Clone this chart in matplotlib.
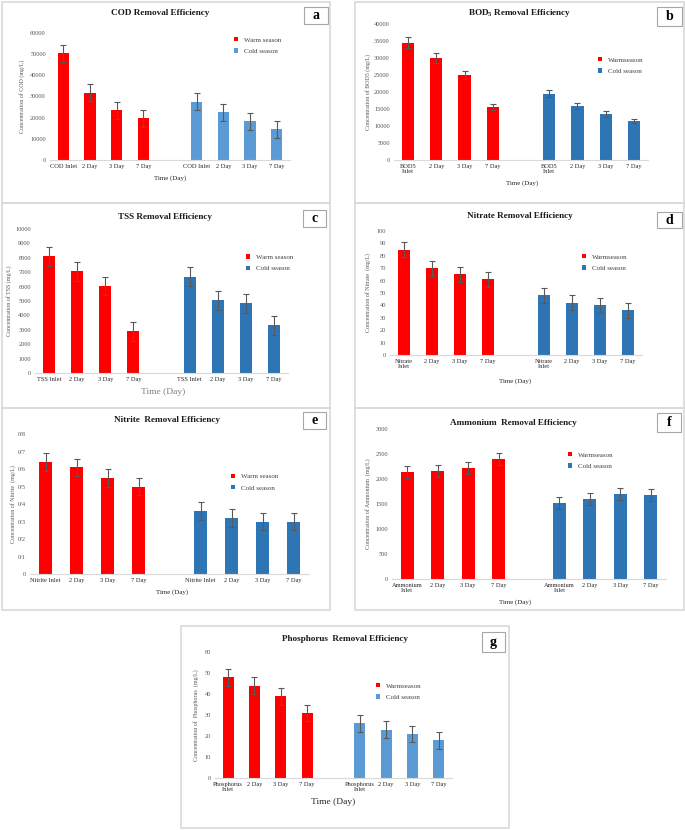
import numpy as np
import matplotlib.pyplot as plt
from matplotlib.patches import Rectangle

plt.rcParams['font.family'] = ['Liberation Serif', 'DejaVu Serif']
plt.rcParams['mathtext.fontset'] = 'custom'
plt.rcParams['mathtext.rm'] = 'Liberation Serif'
plt.rcParams['mathtext.bf'] = 'Liberation Serif:bold'

W, H = 685, 830

# ---- data ----
cod_cats = ['COD Inlet', '2 Day', '3 Day', '7 Day']
cod_warm = [50500, 31700, 23500, 19700]
cod_warm_err = [4000, 4000, 4000, 4000]
cod_cold = [27600, 22600, 18300, 14500]
cod_cold_err = [4000, 4000, 4000, 4000]

bod_cats = ['BOD5\nInlet', '2 Day', '3 Day', '7 Day']
bod_warm = [34500, 30000, 25000, 15500]
bod_warm_err = [1700, 1500, 1200, 900]
bod_cold = [19500, 16000, 13500, 11500]
bod_cold_err = [1000, 900, 800, 600]

tss_cats = ['TSS Inlet', '2 Day', '3 Day', '7 Day']
tss_warm = [8100, 7050, 6050, 2900]
tss_warm_err = [650, 650, 650, 650]
tss_cold = [6700, 5050, 4850, 3300]
tss_cold_err = [650, 650, 650, 650]

no3_cats = ['Nitrate\nInlet', '2 Day', '3 Day', '7 Day']
no3_warm = [85, 70, 65, 61]
no3_warm_err = [6, 6, 6, 6]
no3_cold = [48, 42, 40, 36]
no3_cold_err = [6, 6, 6, 6]

no2_cats = ['Nitrite Inlet', '2 Day', '3 Day', '7 Day']
no2_warm = [0.64, 0.61, 0.55, 0.50]
no2_warm_err = [0.05, 0.05, 0.05, 0.05]
no2_cold = [0.36, 0.32, 0.30, 0.30]
no2_cold_err = [0.05, 0.05, 0.05, 0.05]
no2_ticklabels = ['0', '0/1', '0/2', '0/3', '0/4', '0/5', '0/6', '0/7', '0/8']

nh4_cats = ['Ammonium\nInlet', '2 Day', '3 Day', '7 Day']
nh4_warm = [2150, 2170, 2230, 2400]
nh4_warm_err = [120, 120, 120, 120]
nh4_cold = [1530, 1600, 1700, 1690]
nh4_cold_err = [120, 120, 120, 120]

po4_cats = ['Phosphorus\nInlet', '2 Day', '3 Day', '7 Day']
po4_warm = [48, 44, 39, 31]
po4_warm_err = [4, 4, 4, 4]
po4_cold = [26, 23, 21, 18]
po4_cold_err = [4, 4, 4, 4]

RED = '#ff0000'
LBLUE = '#5b9bd5'
DBLUE = '#2e75b6'
GRAY = '#595959'

fig = plt.figure(figsize=(W / 100, H / 100), dpi=100)


def fxy(x, y):
    return x / W, 1 - y / H


def draw_panel(box, axpx, title, letter, lbox, cats, warm, werr, cold, cerr,
               ymax, ystep, ylabel, ylab_x, leg, legnames, xlab, xlab_fs,
               cold_color, yticklabels=None, xlab_color='#262626'):
    # panel frame
    bx0, by0, bx1, by1 = box
    fig.add_artist(Rectangle(fxy(bx0, by1), (bx1 - bx0) / W, (by1 - by0) / H,
                             transform=fig.transFigure, fill=False,
                             edgecolor='#d9d9d9', lw=1.2))
    x0, y0, x1, y1 = axpx
    ax = fig.add_axes([x0 / W, 1 - y1 / H, (x1 - x0) / W, (y1 - y0) / H])
    pos_w = np.arange(4)
    pos_c = np.arange(5, 9)
    bw = ax.bar(pos_w, warm, width=0.43, color=RED, zorder=2)
    bc = ax.bar(pos_c, cold, width=0.43, color=cold_color, zorder=2)
    ax.errorbar(pos_w, warm, yerr=werr, fmt='none', ecolor=GRAY, elinewidth=0.8,
                capsize=2, capthick=0.8, zorder=3)
    ax.errorbar(pos_c, cold, yerr=cerr, fmt='none', ecolor=GRAY, elinewidth=0.8,
                capsize=2, capthick=0.8, zorder=3)
    ax.set_xlim(-0.5, 8.5)
    ax.set_ylim(0, ymax)
    yt = np.arange(0, ymax + ystep / 2, ystep)
    ax.set_yticks(yt)
    if yticklabels is None:
        yticklabels = ['%g' % v for v in yt]
    ax.set_yticklabels(yticklabels)
    ax.set_xticks(list(pos_w) + list(pos_c))
    ax.set_xticklabels(cats + cats, linespacing=0.9)
    ax.tick_params(length=0, labelsize=4.6, colors=GRAY, pad=3)
    ax.tick_params(axis='x', colors='#262626')
    for s in ['top', 'right', 'left']:
        ax.spines[s].set_visible(False)
    ax.spines['bottom'].set_color('#d9d9d9')
    ax.spines['bottom'].set_linewidth(0.8)
    ax.patch.set_alpha(0)

    # title and letter box
    tx, ty = fxy(*title[1:])
    fig.text(tx, ty, title[0], ha='center', va='center', fontsize=6.6,
             fontweight='bold', color='#1a1a1a')
    lx0, ly0, lx1, ly1 = lbox
    fig.add_artist(Rectangle(fxy(lx0, ly1), (lx1 - lx0) / W, (ly1 - ly0) / H,
                             transform=fig.transFigure, fill=False,
                             edgecolor='#a6a6a6', lw=0.8))
    cx, cy = fxy((lx0 + lx1) / 2, (ly0 + ly1) / 2)
    fig.text(cx, cy, letter, ha='center', va='center', fontsize=10,
             fontweight='bold', color='black')

    # y label
    yx, yy = fxy(ylab_x, (y0 + y1) / 2)
    fig.text(yx, yy, ylabel, rotation=90, ha='center', va='center',
             fontsize=4.3, color=GRAY)

    # x label
    xx, xy = fxy(xlab[0], xlab[1])
    fig.text(xx, xy, 'Time (Day)', ha='center', va='center', fontsize=xlab_fs,
             color=xlab_color)

    # legend
    lgx, lgy = fxy(leg[0] - 2, (leg[1] + leg[2]) / 2)
    ax.legend([bw, bc], legnames, loc='center left', bbox_to_anchor=(lgx, lgy),
              bbox_transform=fig.transFigure, frameon=False, fontsize=5,
              handlelength=0.55, handleheight=0.55, handletextpad=0.9,
              labelspacing=0.85, borderpad=0, borderaxespad=0,
              labelcolor='#404040')
    return ax


draw_panel((2, 2, 330, 203), (50, 33, 290, 160),
           ('COD Removal Efficiency', 160, 13), 'a', (304, 7, 328, 24),
           cod_cats, cod_warm, cod_warm_err, cod_cold, cod_cold_err,
           60000, 10000, 'Concentration of COD (mg/L)', 22, (236, 38, 53),
           ['Warm season', 'Cold season'], (170, 178), 5, LBLUE)

draw_panel((355, 2, 684, 203), (394, 24, 648, 160),
           (r'BOD$_{\mathbf{5}}$ Removal Efficiency', 520, 13), 'b', (657, 7, 682, 26),
           bod_cats, bod_warm, bod_warm_err, bod_cold, bod_cold_err,
           40000, 5000, 'Concentration of BOD5 (mg/L)', 368, (600, 59, 72),
           ['Warmseason', 'Cold season'], (522, 183), 5, DBLUE)

draw_panel((2, 203, 330, 408), (35, 229, 288, 373),
           ('TSS Removal Efficiency', 165, 217), 'c', (303, 210, 326, 227),
           tss_cats, tss_warm, tss_warm_err, tss_cold, tss_cold_err,
           10000, 1000, 'Concentration of TSS (mg/L)', 9, (248, 257, 269),
           ['Warm season', 'Cold season'], (163, 392), 6.8, DBLUE,
           xlab_color='#7f7f7f')

draw_panel((355, 203, 684, 408), (390, 231, 642, 355),
           ('Nitrate Removal Efficiency', 520, 216), 'd', (657, 212, 682, 228),
           no3_cats, no3_warm, no3_warm_err, no3_cold, no3_cold_err,
           100, 10, 'Concentration of Nitrate  (mg/L)', 368, (584, 256, 269),
           ['Warmseason', 'Cold season'], (515, 381), 5, DBLUE)

draw_panel((2, 408, 330, 610), (30, 434, 309, 574),
           ('Nitrite  Removal Efficiency', 167, 420), 'e', (303, 412, 326, 429),
           no2_cats, no2_warm, no2_warm_err, no2_cold, no2_cold_err,
           0.8, 0.1, 'Concentration of Nitrite  (mg/L)', 13, (233, 476, 488),
           ['Warm season', 'Cold season'], (172, 592), 5, DBLUE,
           yticklabels=no2_ticklabels)

draw_panel((355, 408, 684, 610), (392, 429, 666, 579),
           ('Ammonium  Removal Efficiency', 513, 423), 'f', (657, 413, 681, 432),
           nh4_cats, nh4_warm, nh4_warm_err, nh4_cold, nh4_cold_err,
           3000, 500, 'Concentration of Ammonium  (mg/L)', 368, (570, 454, 467),
           ['Warmseason', 'Cold season'], (515, 602), 5, DBLUE)

draw_panel((181, 626, 509, 828), (215, 652, 452, 778),
           ('Phosphorus  Removal Efficiency', 345, 639), 'g', (482, 632, 505, 652),
           po4_cats, po4_warm, po4_warm_err, po4_cold, po4_cold_err,
           60, 10, 'Concentration of  Phosphorus  (mg/L)', 196, (378, 686, 697),
           ['Warmseason', 'Cold season'], (333, 802), 6.8, LBLUE)

fig.savefig('out.png', dpi=100)
